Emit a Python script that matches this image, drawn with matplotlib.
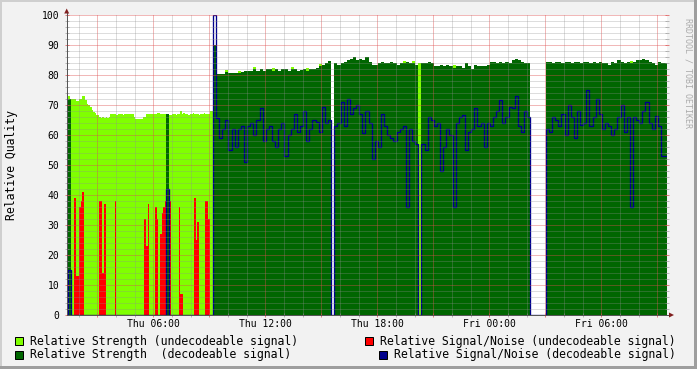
from datetime import datetime, timedelta
import numpy as np
import matplotlib
matplotlib.use('Agg')
import matplotlib.pyplot as plt
import matplotlib.dates as mdates
from matplotlib.patches import Rectangle, Polygon
from matplotlib.ticker import MultipleLocator, FuncFormatter

W, H = 697, 369

# time base: early part sampled every 5 min, later part every 10 min
t_start = datetime(2024, 1, 4, 1, 22)          # a Thursday
early_step_min = 5
late_step_min = 10
late_offset_min = 470
span_hours = 32.14

# --- early part (undecodeable period), 94 samples of 5 min ---
strength_undec_early = [
    74, 73, 72, 72, 72, 72, 71.3, 71.3, 72, 72,
    73, 73, 71.7, 70.5, 70, 69.5, 68.3, 67.7, 67.5, 66.7,
    66.7, 66, 65.8, 66, 65.8, 66, 65.8, 66, 67, 67,
    67, 67, 66.7, 67, 67, 67, 66.7, 67, 67, 67,
    67, 67, 67, 66, 65.3, 65.3, 65.5, 65.3, 65.5, 66,
    66, 67, 67, 67, 67, 67, 67, 67, 67.3, 67.3,
    67, 67, 67, 67, 67, 67, 66.7, 66.7, 67, 67,
    66.7, 67, 67, 68, 67, 67.3, 67, 67, 66.7, 67,
    67, 67.3, 67, 67, 67, 66.7, 67, 67, 67.3, 67,
    67, 67, 68, 68,
]
# short decodeable moments inside the early part
dec_early_idx = [1, 2, 64, 65]
dec_early_strength = [72, 72, 67, 67]
dec_early_snr = [15, 15, 42, 42]
# signal/noise while undecodeable
snr_undec_idx = [0, 5, 6, 7, 8, 9, 10, 21, 22, 23, 24, 31, 50, 51, 52, 57, 58,
                 60, 61, 62, 63, 66, 72, 73, 74, 82, 83, 84, 89, 90, 91]
snr_undec_val = [38, 39, 13, 13, 36, 38, 41, 38, 38, 14, 37, 38, 32, 23, 37, 36, 32,
                 27, 34, 36, 38, 38, 36, 7, 7, 39, 25, 31, 38, 38, 32]

# --- late part (decodeable period), 146 samples of 10 min ---
strength_dec_late = [
    90, 80.5, 80.5, 80.5, 81, 80.7, 80.7, 80.7, 80.7, 81,
    81.5, 81.5, 81.5, 82, 81.5, 82, 81.5, 82, 82, 81.5,
    82, 81.5, 82, 82, 81.5, 82, 82, 81.5, 81.7, 82,
    81.5, 82, 82, 82.5, 83, 83.5, 84, 84.7, 0, 84,
    83.5, 84, 84.5, 85, 85.5, 86, 85, 85.5, 85, 86,
    84.5, 83.3, 83.5, 84, 84.5, 84, 84, 84.5, 84, 83.5,
    84, 84, 84.5, 84, 84, 83.5, 0, 84, 84, 84.5,
    84, 83, 83, 83.5, 83, 83.5, 83, 82.5, 83, 83,
    82.5, 84, 83, 82, 83.5, 83, 83, 83, 83.5, 84.5,
    84.5, 84, 84.5, 84, 84.5, 84, 85, 85.5, 85, 84.5,
    84, 84, 0, 0, 0, 0, 0, 84.5, 84.5, 84,
    84.5, 84.5, 84, 84.5, 84.5, 84, 84.5, 84.5, 84, 84.5,
    84.5, 84, 84.5, 84, 84.5, 84, 84, 83.5, 84.5, 84,
    85, 84.5, 84, 84.5, 84, 84.5, 85, 85, 85.5, 85,
    84.5, 84, 83.5, 84.5, 84, 84,
]
snr_dec_late = [
    100, 65.6, 59, 62, 65, 55, 62, 56, 62, 63,
    51, 63, 64, 60, 65, 69, 58, 62, 63, 58,
    56, 62, 64, 53, 60, 62, 67, 61, 63, 68,
    58, 62, 65, 64.5, 61, 69.5, 64, 65, 0, 63,
    64, 71, 63, 72, 67, 69, 70, 67, 60.6, 68,
    64, 52, 58, 56, 67, 63, 60, 59, 58, 61,
    62, 63, 36, 62, 58, 57, 0, 57, 55, 66,
    65, 63, 64, 48, 56, 62, 60, 36, 64, 66,
    66.7, 55, 61, 62, 69, 63, 64, 56, 64, 63,
    66, 68, 71.7, 64, 66, 69.5, 69, 73, 63, 61,
    68, 66, 0, 0, 0, 0, 0, 62, 61, 66,
    65, 63, 67, 60, 70, 66, 59, 68, 63.5, 64,
    75, 63, 66, 72, 67, 62, 64, 63, 60, 62,
    66, 70, 61, 66, 36, 66, 65, 64, 68, 71,
    64, 62, 66.5, 63, 53, 53,
]
# undecodeable strength peeking above the decodeable one
undec_late_idx = [4, 8, 13, 19, 25, 30, 34, 61, 64, 66, 77, 134]
undec_late_val = [81.8, 81.4, 82.7, 82.2, 82.7, 82.2, 83.7, 84.7, 84.6, 84, 83.2, 84.8]

LIGHT = '#80FF00'
DARK = '#006600'
RED = '#FF0000'
BLUE = '#00008C'
# rrdtool draws 1px dotted grid lines; a lighter solid line gives the same tone here
GRID_MINOR = (0.56, 0.56, 0.56)
GRID_MAJOR = (0.87, 0.31, 0.31)
TICK_MINOR = (0.56, 0.56, 0.56, 0.6)
TICK_MAJOR = (0.87, 0.31, 0.31, 0.7)
ARROW = (0.5, 0.12, 0.12)
AXIS = '#555555'
MONO = 'DejaVu Sans Mono'


def px(x, y):
    # pixel (from top-left) to figure fraction
    return x / W, 1 - y / H


n_early = len(strength_undec_early)
n_late = len(strength_dec_late)

edges = [t_start + timedelta(minutes=early_step_min * j) for j in range(n_early)]
edges += [t_start + timedelta(minutes=late_offset_min + late_step_min * k) for k in range(n_late + 1)]
edges = mdates.date2num(edges)

undec_late = np.zeros(n_late)
undec_late[undec_late_idx] = undec_late_val
strength_undec = np.r_[strength_undec_early, undec_late]

dec_early = np.zeros(n_early)
dec_early[dec_early_idx] = dec_early_strength
strength_dec = np.r_[dec_early, strength_dec_late]

snr_undec_e = np.zeros(n_early)
snr_undec_e[snr_undec_idx] = snr_undec_val
snr_undec = np.r_[snr_undec_e, np.zeros(n_late)]

snr_dec_e = np.zeros(n_early)
snr_dec_e[dec_early_idx] = dec_early_snr
snr_dec = np.r_[snr_dec_e, snr_dec_late]

fig = plt.figure(figsize=(W / 100, H / 100), dpi=100)
fig.patch.set_facecolor('#F2F2F2')

# frame shading
fig.add_artist(Rectangle(px(0, 2), 1, 2 / H, transform=fig.transFigure, color='#CFCFCF', lw=0))
fig.add_artist(Rectangle(px(0, H), 2 / W, 1, transform=fig.transFigure, color='#CFCFCF', lw=0))
fig.add_artist(Rectangle(px(0, H), 1, 3 / H, transform=fig.transFigure, color='#9E9E9E', lw=0))
fig.add_artist(Rectangle(px(W - 3, H), 3 / W, 1, transform=fig.transFigure, color='#9E9E9E', lw=0))

ax = fig.add_axes([66.7 / W, 54 / H, 600 / W, 300 / H])
ax.set_facecolor('white')

ax.stairs(strength_undec, edges, fill=True, color=LIGHT, baseline=0, lw=0, zorder=1)
ax.stairs(strength_dec, edges, fill=True, color=DARK, baseline=0, lw=0, zorder=1.1)
ax.stairs(snr_undec, edges, fill=True, color=RED, baseline=0, lw=0, zorder=1.2)
ax.stairs(snr_dec, edges, fill=False, baseline=None, color=BLUE, lw=0.95, zorder=2)

x0 = mdates.date2num(t_start)
ax.set_xlim(x0, x0 + span_hours / 24)
ax.set_ylim(0, 100)

ax.xaxis.set_major_locator(mdates.HourLocator(byhour=range(0, 24, 3)))
ax.xaxis.set_minor_locator(mdates.HourLocator())


def time_label(v, pos):
    d = mdates.num2date(v)
    if d.hour % 6 == 0:
        return d.strftime('%a %H:%M')
    return ''


ax.xaxis.set_major_formatter(FuncFormatter(time_label))
ax.yaxis.set_major_locator(MultipleLocator(10))
ax.yaxis.set_minor_locator(MultipleLocator(2))

ax.set_axisbelow(False)
ax.grid(which='minor', color=GRID_MINOR, alpha=0.3, linewidth=0.72)
ax.grid(which='major', color=GRID_MAJOR, alpha=0.4, linewidth=0.72)

ax.tick_params(axis='x', which='major', direction='inout', length=2.9, width=0.72,
               color=TICK_MAJOR, pad=1.2, labelsize=7)
ax.tick_params(axis='x', which='minor', direction='inout', length=2.9, width=0.72,
               color=TICK_MINOR)
ax.tick_params(axis='y', which='major', direction='inout', length=2.9, width=0.72,
               color=TICK_MAJOR, pad=3.9, labelsize=7, right=True)
ax.tick_params(axis='y', which='minor', direction='inout', length=2.9, width=0.72,
               color=TICK_MINOR, right=True)
for lab in ax.get_xticklabels() + ax.get_yticklabels():
    lab.set_family(MONO)

for side in ['top', 'right', 'left', 'bottom']:
    ax.spines[side].set_visible(False)

# axes with arrows, drawn past the plot area
ax.plot([0, 0], [0, 1.013], transform=ax.transAxes, color=AXIS, lw=0.72, clip_on=False, zorder=5)
ax.plot([0, 1.007], [0, 0], transform=ax.transAxes, color=AXIS, lw=0.72, clip_on=False, zorder=5)
fig.add_artist(Polygon([px(64.2, 13.5), px(69.2, 13.5), px(66.7, 8.5)], closed=True,
                       transform=fig.transFigure, color=ARROW, lw=0))
fig.add_artist(Polygon([px(669, 312.5), px(669, 317.5), px(674, 315)], closed=True,
                       transform=fig.transFigure, color=ARROW, lw=0))

fig.text(*px(12, 165), 'Relative Quality', rotation=90, ha='center', va='center',
         family=MONO, fontsize=8.3)
fig.text(*px(688, 73.5), 'RRDTOOL / TOBI OETIKER', rotation=270, ha='center', va='center',
         family=MONO, fontsize=6, color='#ABABAB')

legend_items = [
    (15, 341.2, 30, LIGHT, 'Relative Strength (undecodeable signal)'),
    (365, 341.2, 380, RED, 'Relative Signal/Noise (undecodeable signal)'),
    (15, 354.8, 30, DARK, 'Relative Strength  (decodeable signal)'),
    (379.3, 354.8, 394, BLUE, 'Relative Signal/Noise (decodeable signal)'),
]
for bx, cy, tx, col, label in legend_items:
    fig.add_artist(Rectangle(px(bx, cy + 3.8), 7.6 / W, 7.6 / H, transform=fig.transFigure,
                             facecolor=col, edgecolor='black', lw=0.72))
    fig.text(*px(tx, cy), label, ha='left', va='center', family=MONO, fontsize=8.3)

fig.savefig('out.png', dpi=100, facecolor=fig.get_facecolor())
